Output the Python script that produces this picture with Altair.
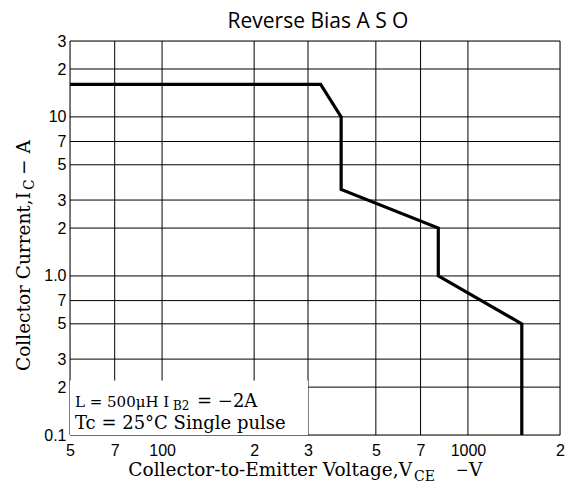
import altair as alt
import pandas as pd

# ---- data ----
vce = [50, 330, 385, 385, 800, 800, 1500, 1500]
ic = [16, 16, 10, 3.5, 2.0, 1.0, 0.5, 0.1]

x_ticks = [50, 70, 100, 200, 300, 500, 700, 1000, 2000]
x_labels = ["5", "7", "100", "2", "3", "5", "7", "1000", "2"]
y_ticks = [0.1, 0.2, 0.3, 0.5, 0.7, 1, 2, 3, 5, 7, 10, 20, 30]
y_labels = ["0.1", "2", "3", "5", "7", "1.0", "2", "3", "5", "7", "10", "2", "3"]

box_x = [50, 300]
box_y = [0.1, 0.22]

W, H = 490, 394


def label_expr(ticks, labels):
    expr = "''"
    for t, l in zip(ticks, labels):
        expr = f"abs(datum.value - {t}) < {t * 0.001} ? '{l}' : ({expr})"
    return expr


xs = alt.Scale(type="log", domain=[50, 2000], nice=False)
ys = alt.Scale(type="log", domain=[0.1, 30], nice=False)

curve_df = pd.DataFrame({"V": vce, "I": ic, "o": range(len(vce))})
xgrid_df = pd.DataFrame({"V": x_ticks})
ygrid_df = pd.DataFrame({"I": y_ticks})
box_df = pd.DataFrame({"x1": [box_x[0]], "x2": [box_x[1]], "y1": [box_y[0]], "y2": [box_y[1]]})

x_axis = alt.Axis(values=x_ticks, labelExpr=label_expr(x_ticks, x_labels), grid=False,
                  ticks=False, domain=False, labelFont="Liberation Sans", labelFontSize=16,
                  labelColor="black", labelPadding=7, title=None, labelFlush=False)
y_axis = alt.Axis(values=y_ticks, labelExpr=label_expr(y_ticks, y_labels), grid=False,
                  ticks=False, domain=False, labelFont="Liberation Sans", labelFontSize=16,
                  labelColor="black", labelPadding=4, title=None, labelFlush=False)

vgrid = alt.Chart(xgrid_df).mark_rule(color="black", strokeWidth=1).encode(
    x=alt.X("V:Q", scale=xs, axis=x_axis))
hgrid = alt.Chart(ygrid_df).mark_rule(color="black", strokeWidth=1).encode(
    y=alt.Y("I:Q", scale=ys, axis=y_axis))

box = alt.Chart(box_df).mark_rect(color="white").encode(
    x=alt.X("x1:Q", scale=xs), x2="x2:Q",
    y=alt.Y("y1:Q", scale=ys), y2="y2:Q")

line = alt.Chart(curve_df).mark_line(color="black", strokeWidth=3.2, clip=True).encode(
    x=alt.X("V:Q", scale=xs), y=alt.Y("I:Q", scale=ys), order="o:Q")

serif = "DejaVu Serif"


def txt(s, x, y, size=17, align="left", angle=0, font=serif):
    return alt.Chart(pd.DataFrame({"t": [s]})).mark_text(
        text=s, font=font, fontSize=size, align=align, baseline="alphabetic",
        angle=angle, color="black").encode(x=alt.value(x), y=alt.value(y))


annot = [
    # title
    txt("Reverse Bias A S O", 248, -13, 21, align="center", font="Open Sans"),
    # annotation box
    txt("L = 500μH I", 5, 366, 15),
    txt("B2", 103, 369, 12),
    txt("= −2A", 127, 366, 18),
    txt("Tc = 25°C Single pulse", 5, 388, 18),
    # x title
    txt("Collector-to-Emitter Voltage,V", 342, 435, 18.5, align="right"),
    txt("CE", 344, 440, 14),
    txt("−", 386, 434, 15),
    txt("V", 399, 435, 18.5),
    # y title (rotated)
    txt("Collector Current,I", -40, 151, 18.5, align="right", angle=270),
    txt("C", -36, 149, 14, align="left", angle=270),
    txt("− A", -40, 134, 18.5, align="left", angle=270),
]

chart = alt.layer(vgrid, hgrid, box, line, *annot).properties(
    width=W, height=H,
    autosize=alt.AutoSizeParams(type="none"),
    padding={"left": 62, "top": 33, "right": 6, "bottom": 48},
).configure_view(stroke="black", strokeWidth=1.5).configure(background="white")

chart.save("out.html", embed_options={"renderer": "svg", "actions": False})
